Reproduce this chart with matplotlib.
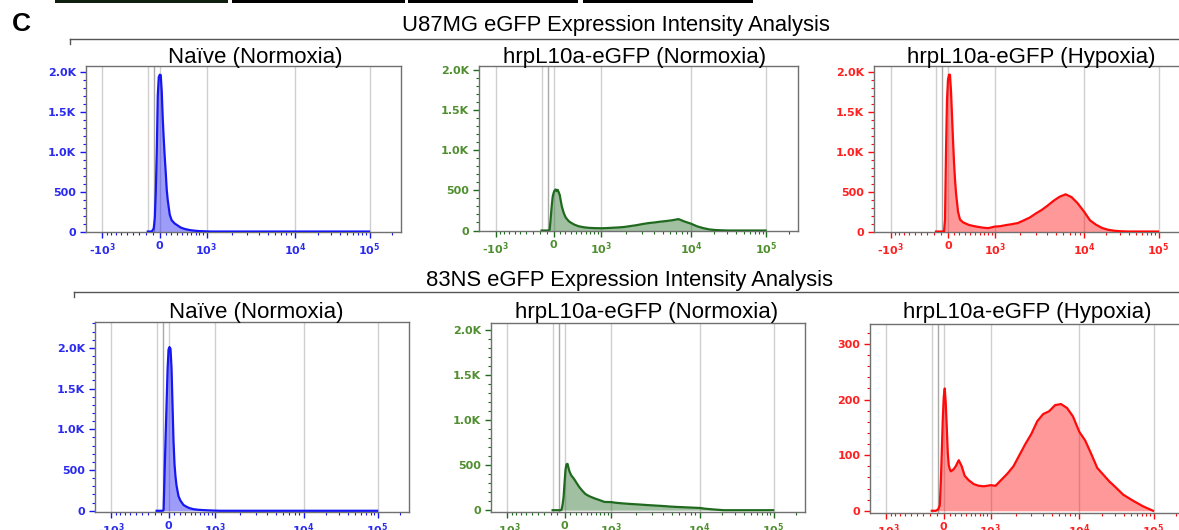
import numpy as np
import matplotlib
matplotlib.use("Agg")
import matplotlib.pyplot as plt
from matplotlib.patches import Rectangle
from matplotlib.lines import Line2D

# ---- data: histogram bin centres (fluorescence units) and event counts ----
fl_bins = [-170, -113, -85, -70, -56, -42, -28, -14, 0, 17, 34, 52, 69, 86, 104, 121, 139,
           174, 209, 264, 320, 377, 457, 565, 680, 808, 1000,
           1158, 1371, 1614, 1892, 2211, 2578, 3001, 3490, 4054, 4706, 5462, 6337, 7350, 8518, 10000,
           12040, 14500, 17450, 21010, 25280, 30420, 38950, 53030, 72190, 98300]

u87_naive = [0, 0, 40, 170, 500, 1000, 1700, 1930, 1960,
             1955, 1750, 1400, 1150, 930, 730, 520, 390,
             210, 140, 100, 75, 50, 32, 18, 10, 5, 2,
             0, 0, 0, 0, 0, 0, 0, 0, 0, 0, 0, 0, 0, 0, 0,
             0, 0, 0, 0, 0, 0, 0, 0, 0, 0]
u87_normoxia = [0, 0, 0, 0, 10, 150, 300, 420, 470,
                500, 510, 490, 505, 475, 440, 370, 300,
                215, 160, 115, 90, 70, 52, 40, 33, 30, 28,
                30, 34, 38, 44, 55, 66, 80, 92, 100, 110, 118, 128, 142, 112, 85,
                52, 30, 14, 6, 3, 0, 0, 0, 0, 0]
u87_hypoxia = [0, 0, 0, 0, 0, 150, 1000, 1650, 1900,
               1960, 1960, 1750, 1450, 1150, 860, 650, 480,
               250, 150, 115, 98, 82, 70, 58, 48, 42, 62,
               66, 80, 92, 106, 140, 175, 225, 270, 325, 385, 435, 465, 430, 355, 250,
               140, 85, 45, 22, 10, 4, 0, 0, 0, 0]
ns_naive = [0, 0, 0, 10, 450, 880, 1300, 1720, 1980,
            2010, 1990, 1750, 1300, 860, 570, 420, 310,
            180, 125, 72, 50, 33, 20, 12, 8, 5, 2,
            0, 0, 0, 0, 0, 0, 0, 0, 0, 0, 0, 0, 0, 0, 0,
            0, 0, 0, 0, 0, 0, 0, 0, 0, 0]
ns_normoxia = [0, 0, 0, 0, 0, 5, 60, 140, 300,
               450, 510, 515, 470, 430, 405, 383, 370,
               340, 305, 255, 215, 180, 155, 132, 113, 92, 90,
               82, 76, 71, 67, 63, 58, 54, 50, 46, 41, 37, 34, 31, 28, 25,
               16, 10, 5, 0, 0, 0, 0, 0, 0, 0]
ns_hypoxia = [0, 0, 2, 5, 10, 50, 104, 165, 205,
              220, 194, 150, 105, 82, 75, 71, 72,
              75, 80, 91, 80, 63, 55, 48, 45, 44, 46,
              45, 56, 67, 80, 100, 120, 138, 161, 174, 179, 190, 192, 185, 170, 142,
              126, 102, 77, 65, 53, 43, 29, 18, 8, 0]

panel_titles = ["Naïve (Normoxia)", "hrpL10a-eGFP (Normoxia)", "hrpL10a-eGFP (Hypoxia)"]
group_titles = ["U87MG eGFP Expression Intensity Analysis", "83NS eGFP Expression Intensity Analysis"]

x_major = [-1000, 0, 1000, 10000, 100000]
x_labels = [r"-$\mathbf{10^3}$", "0", r"$\mathbf{10^3}$", r"$\mathbf{10^4}$", r"$\mathbf{10^5}$"]
x_grid = [-1000, -170, -85, 0, 1000, 10000, 100000]
x_minor = ([-m * 100 for m in range(1, 10)] + [m * 100 for m in range(1, 10)] +
           [m * 1000 for m in range(2, 10)] + [m * 10000 for m in range(2, 10)] +
           [m * 100000 for m in range(2, 4)])

# ---- biexponential-like display transform (FlowJo style axis) ----
W_BASIS = 700.0
U_KNOTS = np.arcsinh(np.array([-1e6, -1e3, 0, 1e3, 1e4, 1e5, 1e6]) / W_BASIS)
P_KNOTS = np.array([49.8 * U_KNOTS[0], -57.5, 0, 47, 136, 210.5, 285])


def fwd(x):
    u = np.arcsinh(np.asarray(x, dtype=float) / W_BASIS)
    return np.interp(u, U_KNOTS, P_KNOTS)


def inv(p):
    u = np.interp(np.asarray(p, dtype=float), P_KNOTS, U_KNOTS)
    return W_BASIS * np.sinh(u)


W, H = 1179, 530
fig = plt.figure(figsize=(W / 100, H / 100), dpi=100)


def px_rect(left, top, right, bottom):
    return [left / W, 1 - bottom / H, (right - left) / W, (bottom - top) / H]


BLUE = ("#1717f2", "#2a2af0")
GREEN = ("#1f6a1f", "#4f8f2f")
RED = ("#ff0a0a", "#ff2020")

panels = [
    (u87_naive, (86, 66, 401, 232), BLUE, (-6, 2069)),
    (u87_normoxia, (479, 66, 798, 231), GREEN, (-6, 2045)),
    (u87_hypoxia, (874, 66, 1190, 232), RED, (-6, 2069)),
    (ns_naive, (95, 322, 409, 512), BLUE, (-15, 2318)),
    (ns_normoxia, (491, 323, 805, 512), GREEN, (-20, 2080)),
    (ns_hypoxia, (870, 324, 1185, 513), RED, (-4, 336)),
]

for counts, box, (line_c, text_c), ylim in panels:
    ax = fig.add_axes(px_rect(*box))
    ax.set_xscale("function", functions=(fwd, inv))

    for g in x_grid:
        ax.axvline(g, color="#a8a8a8" if g == -85 else "#cfcfcf", lw=1.0, zorder=0)

    ax.fill_between(fl_bins, counts, 0, color=line_c, alpha=0.42, lw=0, zorder=2)
    ax.plot(fl_bins, counts, color=line_c, lw=1.6, zorder=3)

    ax.set_xticks(x_major)
    ax.set_xticklabels(x_labels)
    ax.set_xticks(x_minor, minor=True)
    if ylim[1] < 1000:
        ax.set_yticks([0, 100, 200, 300])
        ax.set_yticklabels(["0", "100", "200", "300"])
        ax.set_yticks(np.arange(0, 340, 20), minor=True)
    else:
        ax.set_yticks([0, 500, 1000, 1500, 2000])
        ax.set_yticklabels(["0", "500", "1.0K", "1.5K", "2.0K"])
        ax.set_yticks(np.arange(0, ylim[1], 100), minor=True)

    # limits last, so the tick lists cannot widen them
    ax.set_xlim(float(inv(-74)), float(inv(242)))
    ax.set_ylim(*ylim)

    ax.tick_params(axis="both", which="major", length=4, width=1, color=line_c,
                   labelcolor=text_c, labelsize=8, pad=3)
    ax.tick_params(axis="both", which="minor", length=2, width=0.8, color=line_c)
    ax.tick_params(axis="x", which="major", pad=2.5)
    for lab in ax.get_yticklabels() + ax.get_xticklabels():
        lab.set_fontweight("bold")
    for s in ax.spines.values():
        s.set_color("#707070")
        s.set_linewidth(1.0)

# panel titles (centre x, baseline y in px)
title_pos = [(255, 63), (635, 63), (1031, 63), (256, 318), (647, 318), (1027, 318)]
for i, (cx, by) in enumerate(title_pos):
    fig.text(cx / W, 1 - by / H, panel_titles[i % 3], ha="center", va="baseline",
             fontsize=16, family="Liberation Sans")

fig.text(616 / W, 1 - 31.5 / H, group_titles[0], ha="center", va="baseline",
         fontsize=15.8, family="Liberation Sans")
fig.text(630 / W, 1 - 286 / H, group_titles[1], ha="center", va="baseline",
         fontsize=15.8, family="Liberation Sans")

# brackets under the group titles
for x0, y0 in [(70, 38.5), (74, 291.5)]:
    fig.add_artist(Line2D([x0 / W, 1.0], [1 - y0 / H, 1 - y0 / H], color="#555555", lw=1.0))
    fig.add_artist(Line2D([x0 / W, x0 / W], [1 - y0 / H, 1 - (y0 + 5) / H], color="#555555", lw=1.0))

# panel letter
fig.text(21 / W, 1 - 24 / H, "C", ha="center", va="center", fontsize=19,
         fontweight="bold", family="Liberation Sans")

# remnants of the panel above
for x0, x1, c in [(55, 228, "#0f1f0f"), (232, 405, "#000000"), (408, 578, "#000000"), (583, 753, "#000000")]:
    fig.add_artist(Rectangle((x0 / W, 1 - 3 / H), (x1 - x0) / W, 3 / H, color=c, lw=0))

fig.savefig("out.png", dpi=100)
